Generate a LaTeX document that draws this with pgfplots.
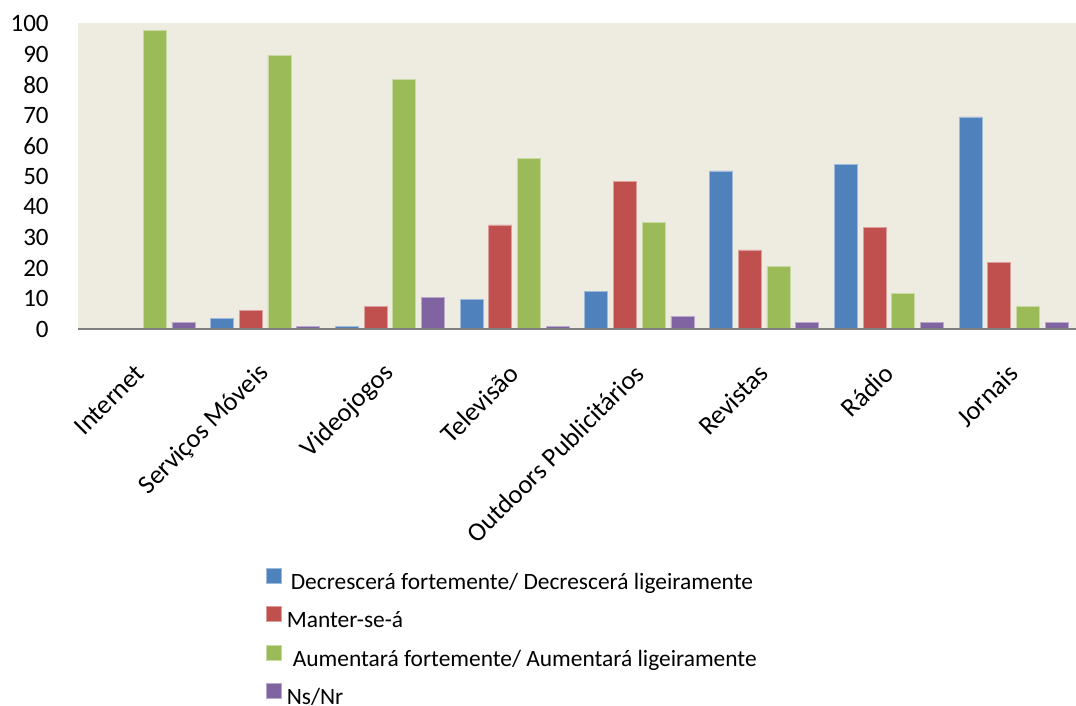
\documentclass[border=0pt]{standalone}
\usepackage{fontspec}
\setmainfont{Carlito}
\usepackage{pgfplots}
\pgfplotsset{compat=1.18}
\definecolor{cblue}{HTML}{4F81BD}
\definecolor{cred}{HTML}{C0504D}
\definecolor{cgreen}{HTML}{9BBB59}
\definecolor{cpurple}{HTML}{8064A2}
\definecolor{bg}{HTML}{EEECE1}
\definecolor{axgray}{HTML}{808080}
\begin{document}
\begin{tikzpicture}
\useasboundingbox (0,0) rectangle (538pt,353pt);
\begin{axis}[
  at={(39pt,188.5pt)}, anchor=south west,
  scale only axis, width=499pt, height=153pt,
  xmin=-0.5, xmax=7.5, ymin=0, ymax=100.3,
  axis line style={draw=none},
  axis background/.style={fill=bg},
  ytick={0,10,...,100},
  xtick={0,...,7},
  xticklabels={Internet,Serviços Móveis,Videojogos,Televisão,Outdoors Publicitários,Revistas,Rádio,Jornais},
  major tick length=0pt,
  tick style={draw=none},
  /pgf/number format/assume math mode=true,
  yticklabel style={font=\fontsize{12.5}{15}\selectfont, anchor=east, inner sep=0pt, xshift=-14.5pt},
  xticklabel style={font=\fontsize{13.2}{15}\selectfont, xshift=0pt, yshift=-20pt, rotate=45, anchor=east, inner sep=0pt},
  ybar=2.85pt, bar width=11.5pt,
  legend style={at={(0.1884,-0.781)}, anchor=north west, draw=none, fill=none,
    inner sep=0pt, outer sep=0pt, font=\fontsize{11.7}{14}\selectfont,
    row sep=6pt, column sep=2.5pt,
    nodes={inner sep=0pt, text height=8.5pt, text depth=2.5pt}},
  legend cell align=left,
  legend image code/.code={\fill[#1] (0pt,0pt) rectangle (7.5pt,7.5pt);},
  clip=false,
]
\addplot[fill=cblue, draw=cblue!55!white, line width=0.4pt] coordinates {(1,3.5) (2,0.8) (3,9.6) (4,12.4) (5,51.8) (6,53.9) (7,69.5)};
\addplot[fill=cred, draw=cred!55!white, line width=0.4pt] coordinates {(1,6.2) (2,7.5) (3,34.1) (4,48.3) (5,25.9) (6,33.4) (7,21.9)};
\addplot[fill=cgreen, draw=cgreen!55!white, line width=0.4pt] coordinates {(0,98) (1,89.8) (2,81.7) (3,55.8) (4,34.8) (5,20.6) (6,11.7) (7,7.5)};
\addplot[fill=cpurple, draw=cpurple!55!white, line width=0.4pt] coordinates {(0,2.2) (1,0.9) (2,10.4) (3,0.9) (4,4.2) (5,2.2) (6,2.2) (7,2.2)};
\legend{\hspace{2pt}Decrescerá fortemente/ Decrescerá ligeiramente, Manter-se-á, \hspace{3pt}Aumentará fortemente/ Aumentará ligeiramente, Ns/Nr}
\draw[axgray, line width=1.35pt] (rel axis cs:0,0) -- (rel axis cs:1,0);
\end{axis}
\end{tikzpicture}
\end{document}
